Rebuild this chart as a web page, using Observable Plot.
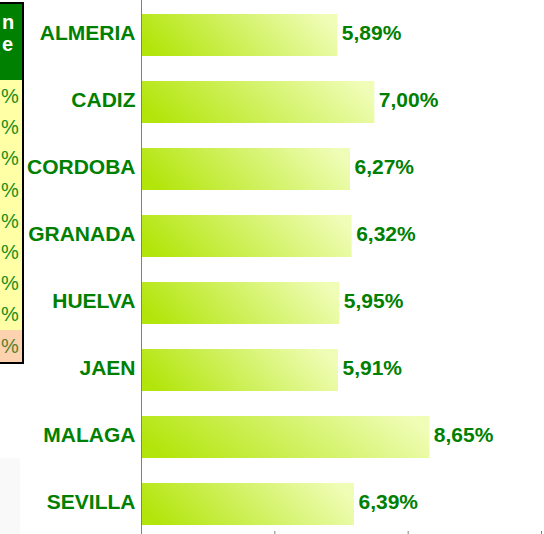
<!DOCTYPE html>
<html>
<head>
<meta charset="utf-8">
<script src="https://cdn.jsdelivr.net/npm/d3@7"></script>
<script src="https://cdn.jsdelivr.net/npm/@observablehq/plot@0.6"></script>
<style>
html, body { margin: 0; padding: 0; background: #ffffff; }
#wrap { position: relative; width: 544px; height: 534px; overflow: hidden; font-family: "Liberation Sans", Arial, sans-serif; }
#wrap svg { position: absolute; left: 0; top: 0; }
.tbl { position: absolute; left: -2px; top: 2px; width: 22px; border: 2px solid #000; overflow: hidden; }
.hdr { position: relative; height: 76px; background: #008000; overflow: hidden; }
.hdr span { position: absolute; white-space: nowrap; color: #fff; font-weight: bold; font-size: 20px; line-height: 20px; }
.cell { position: relative; overflow: hidden; }
.cell span { position: absolute; white-space: nowrap; font-size: 20px; line-height: 20px; }
.ghost { position: absolute; left: 0; top: 458px; width: 20px; height: 76px; background: #f9f9f9; }
</style>
</head>
<body>
<div id="wrap"></div>
<script>
// ---- chart data ----
const provinces = ["ALMERIA", "CADIZ", "CORDOBA", "GRANADA", "HUELVA", "JAEN", "MALAGA", "SEVILLA"];
const values = [5.89, 7.00, 6.27, 6.32, 5.95, 5.91, 8.65, 6.39];
const xTicks = [0, 4, 8, 12];

// ---- visible text of the cropped table fragment on the left ----
const headerLines = ["n", "e"];
const tableCells = ["%", "%", "%", "%", "%", "%", "%", "%"];
const totalCell = "%";

const fmt = v => v.toFixed(2).replace(".", ",") + "%";
const data = provinces.map((p, i) => ({province: p, value: values[i]}));

const green = "#008000";

const chart = Plot.plot({
  width: 544,
  height: 534,
  marginLeft: 141,
  marginRight: 3,
  marginTop: 0,
  marginBottom: 3,
  style: {fontFamily: "'Liberation Sans', Arial, sans-serif", background: "transparent", color: "#808080", overflow: "hidden"},
  x: {domain: [0, 12], ticks: xTicks, tickFormat: () => "", tickSize: 6, label: null},
  y: {domain: provinces, range: [8, 531], paddingInner: 0.367, paddingOuter: 0.0745, axis: null},
  marks: [
    Plot.barX(data, {x: "value", y: "province", fill: "url(#barGrad)"}),
    Plot.ruleX([0], {stroke: "#808080"}),
    Plot.text(data, {x: 0, y: "province", text: "province", textAnchor: "end", dx: -6, dy: -2.5, fontSize: 21, fontWeight: "bold", fill: green}),
    Plot.text(data, {x: "value", y: "province", text: d => fmt(d.value), textAnchor: "start", dx: 4, dy: -2.5, fontSize: 21, fontWeight: "bold", fill: green})
  ]
});

// gradient definition for the bars
const ns = "http://www.w3.org/2000/svg";
const defs = document.createElementNS(ns, "defs");
const grad = document.createElementNS(ns, "linearGradient");
grad.setAttribute("id", "barGrad");
grad.setAttribute("x1", "0"); grad.setAttribute("y1", "0.6");
grad.setAttribute("x2", "1"); grad.setAttribute("y2", "0.4");
[["0", "#b2e50a"], ["1", "#effdb6"]].forEach(([o, c]) => {
  const s = document.createElementNS(ns, "stop");
  s.setAttribute("offset", o);
  s.setAttribute("stop-color", c);
  grad.appendChild(s);
});
defs.appendChild(grad);
chart.insertBefore(defs, chart.firstChild);

const wrap = document.getElementById("wrap");
wrap.appendChild(chart);

// table fragment
const tbl = document.createElement("div");
tbl.className = "tbl";
const hdr = document.createElement("div");
hdr.className = "hdr";
const hl1 = document.createElement("span");
hl1.textContent = headerLines[0];
hl1.style.left = "2px"; hl1.style.top = "8px";
const hl2 = document.createElement("span");
hl2.textContent = headerLines[1];
hl2.style.left = "2px"; hl2.style.top = "30px";
hdr.appendChild(hl1); hdr.appendChild(hl2);
tbl.appendChild(hdr);
tableCells.forEach((t, i) => {
  const c = document.createElement("div");
  c.className = "cell";
  c.style.height = "31.2px";
  c.style.background = "#ffffa6";
  const s = document.createElement("span");
  s.textContent = t;
  s.style.left = "1px"; s.style.top = "6px";
  s.style.color = "#1a8c1a";
  c.appendChild(s);
  tbl.appendChild(c);
});
const tc = document.createElement("div");
tc.className = "cell";
tc.style.height = "32px";
tc.style.background = "#fcd3ae";
const ts = document.createElement("span");
ts.textContent = totalCell;
ts.style.left = "1px"; ts.style.top = "6px";
ts.style.color = "#5a7f30";
tc.appendChild(ts);
tbl.appendChild(tc);
wrap.appendChild(tbl);

const ghost = document.createElement("div");
ghost.className = "ghost";
wrap.appendChild(ghost);
</script>
</body>
</html>
